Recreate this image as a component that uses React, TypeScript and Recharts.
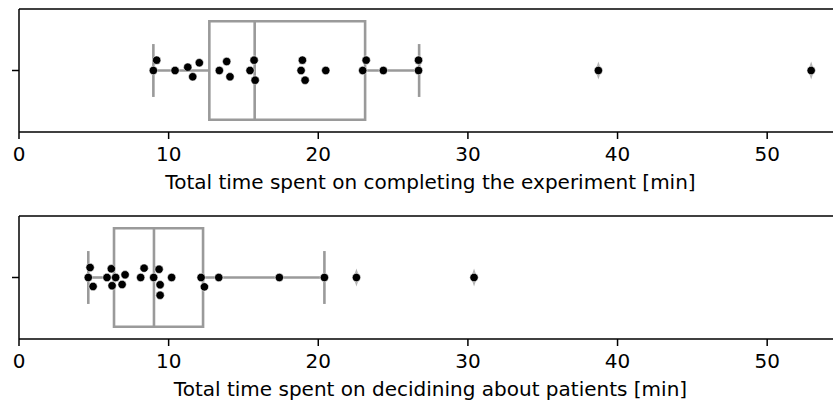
import { ScatterChart, Scatter, XAxis, YAxis, ReferenceArea, ReferenceLine } from 'recharts'

const xTicks = [0, 10, 20, 30, 40, 50]

// total experiment time [min], one per participant
const experimentTimes = [
  8.98, 9.2, 10.43, 11.28, 11.61, 12.05, 13.39, 13.88, 14.1, 15.44, 15.71, 15.78,
  18.85, 18.94, 19.12, 20.5, 22.97, 23.2, 24.35, 26.7, 26.7, 38.72, 52.94,
]
// swarm offset from the category line (category units, + is up)
const experimentSwarm = [
  0, 0.084, 0, 0.027, -0.051, 0.063, 0, 0.073, -0.051, 0, 0.084, -0.079,
  0, 0.084, -0.079, 0, 0, 0.084, 0, 0.084, 0, 0, 0,
]
// whisker low, q1, median, q3, whisker high
const experimentStats = [8.98, 12.72, 15.75, 23.13, 26.74]

// time deciding about patients [min]
const decidingTimes = [
  4.75, 4.63, 4.95, 5.88, 6.17, 6.22, 6.46, 6.89, 7.09, 8.13, 8.36, 9.0,
  9.36, 9.43, 9.43, 10.2, 12.17, 12.39, 13.35, 17.4, 20.41, 22.55, 30.41,
]
const decidingSwarm = [
  0.081, 0, -0.073, 0, 0.071, -0.067, 0, -0.057, 0.022, 0, 0.076, 0,
  0.067, -0.059, -0.144, 0, 0, -0.076, 0, 0, 0, 0, 0,
]
const decidingStats = [4.63, 6.35, 9.02, 12.3, 20.41]

const GREY = '#9a9a9a'

const Dot = (p: any) => (
  <circle cx={p.cx} cy={p.cy} r={4.2} fill='#000' stroke='#fff' strokeWidth={0.6} />
)

const Diamond = (p: any) => (
  <path
    d={`M${p.cx},${p.cy - 9}L${p.cx + 3},${p.cy}L${p.cx},${p.cy + 9}L${p.cx - 3},${p.cy}Z`}
    fill='#b4b4b4'
  />
)

function Panel({
  values,
  swarm,
  stats,
  label,
  top,
}: {
  values: number[]
  swarm: number[]
  stats: number[]
  label: string
  top: number
}) {
  const [lo, q1, med, q3, hi] = stats
  const points = values.map((x, i) => ({ x, y: swarm[i] }))
  const fliers = values.filter((v) => v < lo || v > hi).map((x) => ({ x, y: 0 }))

  return (
    <div style={{ position: 'absolute', left: 0, top }}>
      <ScatterChart width={842} height={200} margin={{ top: 9, right: 0, bottom: 8, left: 0 }}>
        <XAxis
          type='number'
          dataKey='x'
          domain={[0, 55]}
          allowDataOverflow
          ticks={xTicks}
          height={60}
          tickSize={7}
          tickMargin={8}
          tick={{ fill: '#000', fontSize: 20 }}
          tickLine={{ stroke: '#000', strokeWidth: 1.5 }}
          axisLine={{ stroke: '#000', strokeWidth: 1.5 }}
          label={{ value: label, position: 'insideBottom', offset: 3, fill: '#000', fontSize: 20 }}
        />
        <YAxis
          type='number'
          dataKey='y'
          domain={[-0.5, 0.5]}
          allowDataOverflow
          ticks={[0]}
          width={19}
          tickSize={7}
          tickFormatter={() => ''}
          tickLine={{ stroke: '#000', strokeWidth: 1.5 }}
          axisLine={{ stroke: '#000', strokeWidth: 1.5 }}
        />
        <ReferenceLine y={0.5} stroke='#000' strokeWidth={1.5} />
        <ReferenceLine segment={[{ x: lo, y: 0 }, { x: q1, y: 0 }]} stroke={GREY} strokeWidth={2.6} />
        <ReferenceLine segment={[{ x: q3, y: 0 }, { x: hi, y: 0 }]} stroke={GREY} strokeWidth={2.6} />
        <ReferenceLine segment={[{ x: lo, y: -0.215 }, { x: lo, y: 0.215 }]} stroke={GREY} strokeWidth={2.6} />
        <ReferenceLine segment={[{ x: hi, y: -0.215 }, { x: hi, y: 0.215 }]} stroke={GREY} strokeWidth={2.6} />
        <ReferenceArea
          x1={q1}
          x2={q3}
          y1={-0.4}
          y2={0.4}
          fill='#fff'
          fillOpacity={0}
          stroke={GREY}
          strokeOpacity={1}
          strokeWidth={2.6}
        />
        <ReferenceLine segment={[{ x: med, y: -0.4 }, { x: med, y: 0.4 }]} stroke={GREY} strokeWidth={2.6} />
        <Scatter data={fliers} shape={Diamond} isAnimationActive={false} />
        <Scatter data={points} shape={Dot} isAnimationActive={false} />
      </ScatterChart>
    </div>
  )
}

export default function App() {
  return (
    <div
      style={{
        position: 'absolute',
        left: 0,
        top: 0,
        width: 833,
        height: 404,
        overflow: 'hidden',
        background: '#fff',
        fontFamily: "'DejaVu Sans', sans-serif",
      }}
    >
      <Panel
        values={experimentTimes}
        swarm={experimentSwarm}
        stats={experimentStats}
        label='Total time spent on completing the experiment [min]'
        top={0}
      />
      <Panel
        values={decidingTimes}
        swarm={decidingSwarm}
        stats={decidingStats}
        label='Total time spent on decidining about patients [min]'
        top={207}
      />
    </div>
  )
}
